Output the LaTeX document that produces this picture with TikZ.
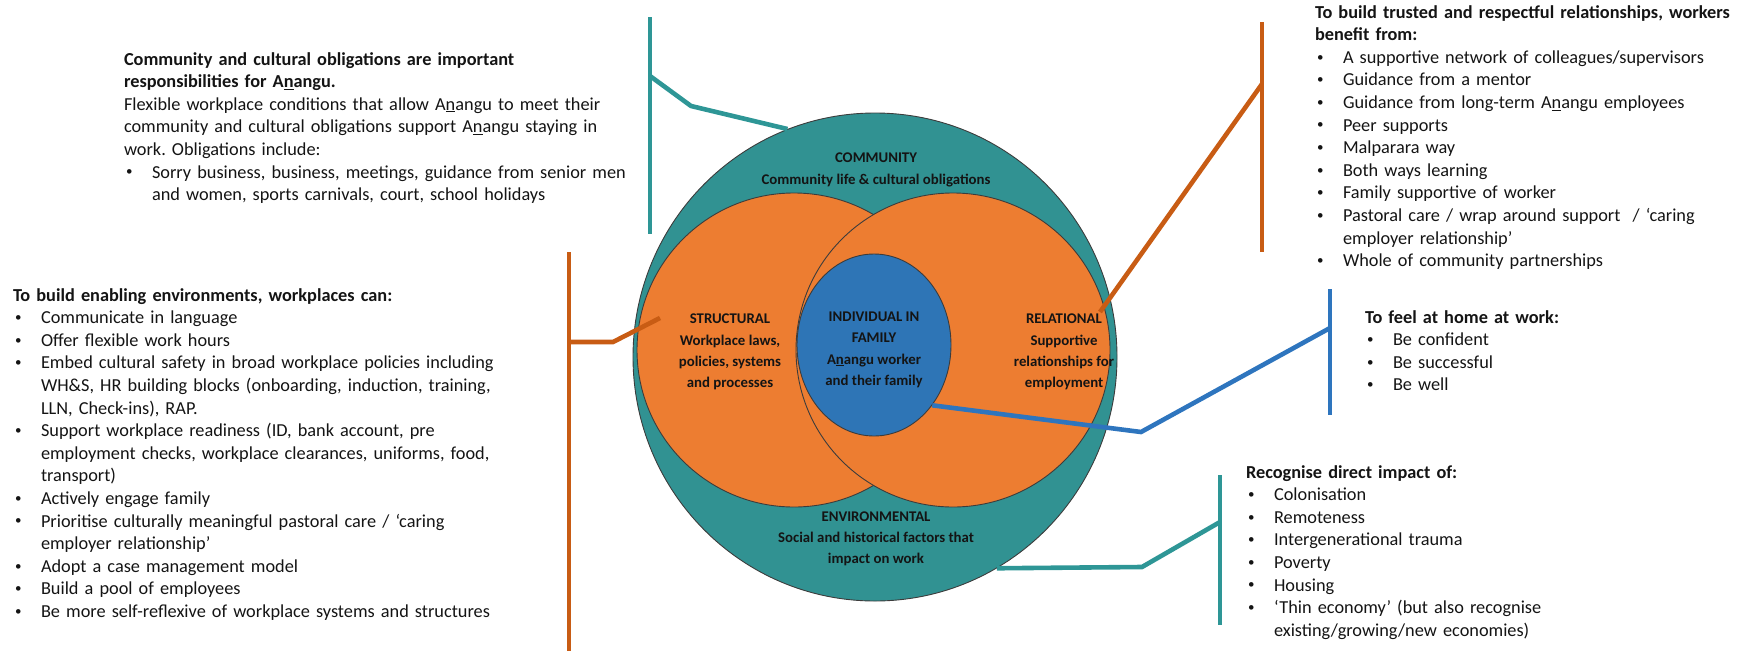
\documentclass[tikz,border=0pt]{standalone}
\usepackage{fontspec}
\setmainfont{Carlito}
\usetikzlibrary{shapes.geometric}
\frenchspacing

\definecolor{tealfill}{RGB}{49,146,146}
\definecolor{tealwire}{RGB}{46,150,150}
\definecolor{orangefill}{RGB}{237,125,49}
\definecolor{orangewire}{RGB}{200,92,20}
\definecolor{bluefill}{RGB}{46,117,182}
\definecolor{bluewire}{RGB}{46,117,190}
\definecolor{rimgray}{RGB}{60,60,60}
\definecolor{inktext}{RGB}{20,20,20}

% bulleted line with hanging indent; continuation lines break with \newline
\newlength{\itemgap}\setlength{\itemgap}{28pt}
\newcommand{\smalldot}{\raisebox{0.12em}{\fontsize{13}{13}\selectfont\textbullet}}
\newcommand{\bitem}[1]{\par\hangindent=\itemgap\hangafter=1\noindent\makebox[\itemgap][l]{\hspace{2pt}\smalldot}#1}
\newcommand{\Ang}{A\underline{n}angu}

\tikzset{
  blocktext/.style={anchor=base west, inner sep=0pt, outer sep=0pt, text width=560pt,
    align=left, font=\fontsize{18.3}{22.6}\selectfont, text=inktext},
  circlabel/.style={align=center, inner sep=0pt, font=\bfseries\fontsize{14.8}{21.3}\selectfont, text=inktext},
  wire/.style={line width=4.6pt},
  rim/.style={draw=rimgray, line width=0.9pt}
}

\begin{document}
\begin{tikzpicture}[x=1pt,y=-1pt]
\useasboundingbox (0,0) rectangle (1747,651);

% nested circles
\node (env) [ellipse, rim, fill=tealfill, minimum width=484pt, minimum height=488pt, inner sep=0pt] at (875,357) {};
\node (struct) [circle, rim, fill=orangefill, minimum size=314pt, inner sep=0pt] at (794,350) {};
\node (relat) [circle, rim, fill=orangefill, minimum size=314pt, inner sep=0pt] at (953,350) {};
\node (fam) [ellipse, rim, fill=bluefill, minimum width=154pt, minimum height=182pt, inner sep=0pt] at (874,345) {};

% connector anchor points
\coordinate (tTop) at (650,17);   \coordinate (tBot) at (650,234);
\coordinate (tJoin) at (650,76);  \coordinate (tBend) at (691,106);
\coordinate (oLtop) at (569,252); \coordinate (oLbot) at (569,651);
\coordinate (oLjoin) at (569,342);\coordinate (oLbend) at (613,342);
\coordinate (oLend) at (660,318);
\coordinate (oRtop) at (1262,22); \coordinate (oRbot) at (1262,252);
\coordinate (oRjoin) at (1262,84);\coordinate (oRend) at (1100,312);
\coordinate (bTop) at (1330,289); \coordinate (bBot) at (1330,415);
\coordinate (bJoin) at (1330,328);\coordinate (bBend) at (1141,432);
\coordinate (eTop) at (1220,475); \coordinate (eBot) at (1220,625);
\coordinate (eJoin) at (1220,522);\coordinate (eBend) at (1142,567);

% connectors
\draw[wire, tealwire] (tTop) -- (tBot);
\draw[wire, tealwire] (tJoin) -- (tBend) -- (env.111);
\draw[wire, orangewire] (oLtop) -- (oLbot);
\draw[wire, orangewire] (oLjoin) -- (oLbend) -- (oLend);
\draw[wire, orangewire] (oRtop) -- (oRbot);
\draw[wire, orangewire] (oRjoin) -- (oRend);
\draw[wire, bluewire] (bTop) -- (bBot);
\draw[wire, bluewire] (fam.-46) -- (bBend) -- (bJoin);
\draw[wire, tealwire] (eTop) -- (eBot);
\draw[wire, tealwire] (env.-60) -- (eBend) -- (eJoin);

% labels inside the circles
\node (lblComm) [circlabel] at (876,170) {COMMUNITY\\Community life \& cultural obligations};
\node (lblStruct) [circlabel] at (730,352) {STRUCTURAL\\Workplace laws,\\policies, systems\\and processes};
\node (lblInd) [circlabel] at (874,350) {INDIVIDUAL IN\\FAMILY\\\Ang{} worker\\and their family};
\node (lblRel) [circlabel] at (1064,352) {RELATIONAL\\Supportive\\relationships for\\employment};
\node (lblEnv) [circlabel] at (876,539) {ENVIRONMENTAL\\Social and historical factors that\\impact on work};

% side notes
\node (tlnote) [blocktext] at (124,65) {%
\textbf{Community and cultural obligations are important}\newline
\textbf{responsibilities for \Ang.}\par\noindent
Flexible workplace conditions that allow \Ang{} to meet their\newline
community and cultural obligations support \Ang{} staying in\newline
work. Obligations include:
\bitem{Sorry business, business, meetings, guidance from senior men\newline and women, sports carnivals, court, school holidays}\par};

\node (leftnote) [blocktext] at (13,301) {%
\textbf{To build enabling environments, workplaces can:}
\bitem{Communicate in language}
\bitem{Offer flexible work hours}
\bitem{Embed cultural safety in broad workplace policies including\newline WH\&S, HR building blocks (onboarding, induction, training,\newline LLN, Check-ins), RAP.}
\bitem{Support workplace readiness (ID, bank account, pre\newline employment checks, workplace clearances, uniforms, food,\newline transport)}
\bitem{Actively engage family}
\bitem{Prioritise culturally meaningful pastoral care / `caring\newline employer relationship'}
\bitem{Adopt a case management model}
\bitem{Build a pool of employees}
\bitem{Be more self-reflexive of workplace systems and structures}\par};

\node (trnote) [blocktext] at (1315,18) {%
\textbf{To build trusted and respectful relationships, workers}\newline
\textbf{benefit from:}
\bitem{A supportive network of colleagues/supervisors}
\bitem{Guidance from a mentor}
\bitem{Guidance from long-term \Ang{} employees}
\bitem{Peer supports}
\bitem{Malparara way}
\bitem{Both ways learning}
\bitem{Family supportive of worker}
\bitem{Pastoral care / wrap around support~ / `caring\newline employer relationship'}
\bitem{Whole of community partnerships}\par};

\node (homenote) [blocktext] at (1365,323) {%
\textbf{To feel at home at work:}
\bitem{Be confident}
\bitem{Be successful}
\bitem{Be well}\par};

\node (impactnote) [blocktext] at (1246,478) {%
\textbf{Recognise direct impact of:}
\bitem{Colonisation}
\bitem{Remoteness}
\bitem{Intergenerational trauma}
\bitem{Poverty}
\bitem{Housing}
\bitem{`Thin economy' (but also recognise\newline existing/growing/new economies)}\par};
\end{tikzpicture}
\end{document}
